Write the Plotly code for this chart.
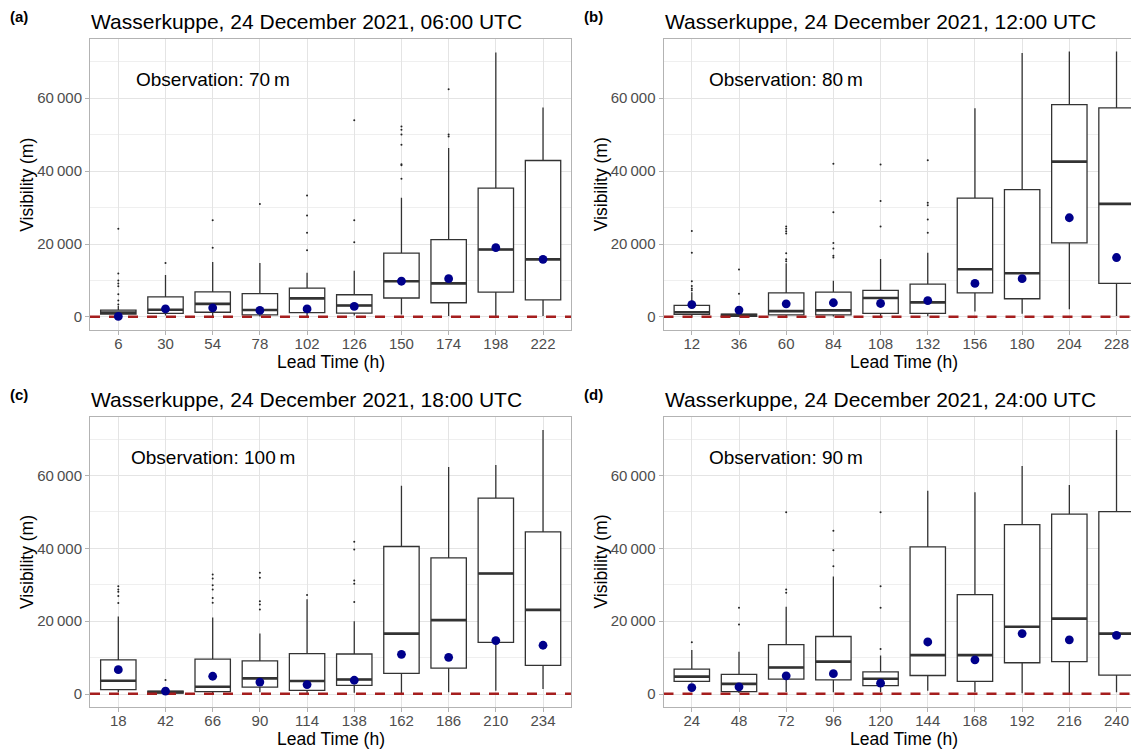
import plotly.graph_objects as go

# ---------------- data ----------------
titles = ["Wasserkuppe, 24 December 2021, 06:00 UTC",
          "Wasserkuppe, 24 December 2021, 12:00 UTC",
          "Wasserkuppe, 24 December 2021, 18:00 UTC",
          "Wasserkuppe, 24 December 2021, 24:00 UTC"]
panel_tags = ["(a)", "(b)", "(c)", "(d)"]
observations = [70, 80, 100, 90]

lead_a = [6, 30, 54, 78, 102, 126, 150, 174, 198, 222]
q1_a = [780, 1000, 1300, 600, 1200, 1050, 5200, 3900, 6800, 4700]
med_a = [1200, 2000, 3600, 1900, 5100, 3150, 9800, 9200, 18500, 15800]
q3_a = [1870, 5500, 6900, 6400, 7900, 6100, 17500, 21200, 35300, 42900]
lo_a = [100, 400, 100, 100, 200, 400, 700, 300, 0, 300]
hi_a = [3000, 11500, 15100, 14800, 12100, 12700, 32700, 46300, 72500, 57400]
mean_a = [150, 2200, 2500, 1800, 2200, 2900, 9800, 10500, 19000, 15800]
out_a = [[24200, 11900, 10000, 9200, 8400, 6200, 4500, 3400], [14800], [19000, 26500],
         [31000], [18300, 23100, 27800, 33300], [20500, 26500, 53900],
         [37900, 41600, 41900, 47200, 50000, 51300, 52200], [49500, 50000, 62400], [], []]

lead_b = [12, 36, 60, 84, 108, 132, 156, 180, 204, 228]
q1_b = [700, 200, 600, 600, 1000, 1000, 6600, 5000, 20300, 9200]
med_b = [1300, 500, 1600, 1800, 5200, 4000, 13100, 12000, 42600, 31000]
q3_b = [3200, 800, 6600, 6800, 7300, 9000, 32600, 34900, 58200, 57300]
lo_b = [100, 100, 100, 100, 200, 200, 1500, 900, 2100, 300]
hi_b = [6800, 1500, 14700, 9900, 15900, 17600, 57200, 72400, 72800, 72800]
mean_b = [3400, 1900, 3600, 3900, 3700, 4500, 9200, 10500, 27200, 16300]
out_b = [[7300, 7800, 8500, 9800, 17600, 23600], [6400, 13000],
         [15300, 15800, 17500, 22900, 23500, 24200, 24800],
         [16300, 16800, 18800, 20300, 28700, 42000], [24800, 31800, 41800],
         [23100, 26700, 30600, 31300, 43000], [], [], [], []]

lead_c = [18, 42, 66, 90, 114, 138, 162, 186, 210, 234]
q1_c = [1200, 300, 700, 1900, 1000, 2400, 5700, 7100, 14200, 7900]
med_c = [3650, 550, 2000, 4300, 3600, 4000, 16600, 20300, 33100, 23100]
q3_c = [9400, 800, 9600, 9100, 11100, 11000, 40500, 37400, 53800, 44500]
lo_c = [500, 100, 300, 500, 300, 400, 300, 500, 900, 1400]
hi_c = [21300, 1300, 21000, 16600, 26000, 20000, 57200, 62300, 62900, 72500]
mean_c = [6700, 800, 4900, 3300, 2600, 3800, 10900, 10100, 14700, 13400]
out_c = [[25000, 26900, 28100, 28700, 29600], [3900],
         [25100, 26400, 28700, 29900, 31700, 32800],
         [23200, 24600, 25500, 31900, 33300], [27200],
         [25300, 30300, 31200, 39700, 41800], [], [], [], []]

lead_d = [24, 48, 72, 96, 120, 144, 168, 192, 216, 240]
q1_d = [3500, 650, 4100, 3900, 2300, 5100, 3500, 8600, 8900, 5200]
med_d = [4800, 2800, 7300, 8900, 4200, 10700, 10700, 18500, 20700, 16600]
q3_d = [6850, 5400, 13600, 15800, 6100, 40400, 27300, 46500, 49400, 50100]
lo_d = [3200, 300, 550, 500, 500, 900, 500, 200, 200, 500]
hi_d = [12100, 11600, 24000, 32300, 10600, 55800, 55400, 62600, 57400, 72500]
mean_d = [1800, 2000, 5000, 5600, 3000, 14300, 9400, 16600, 14900, 16100]
out_d = [[14200], [19100, 23700], [27800, 28700, 49900], [35100, 39500, 44800],
         [12400, 23700, 29600, 49900], [], [], [], [], []]

y_tickvals = [0, 20000, 40000, 60000]
y_ticktext = ["0", "20\u2009000", "40\u2009000", "60\u2009000"]
y_minor = [10000, 30000, 50000, 70000]

panels = [
    (lead_a, q1_a, med_a, q3_a, lo_a, hi_a, mean_a, out_a),
    (lead_b, q1_b, med_b, q3_b, lo_b, hi_b, mean_b, out_b),
    (lead_c, q1_c, med_c, q3_c, lo_c, hi_c, mean_c, out_c),
    (lead_d, q1_d, med_d, q3_d, lo_d, hi_d, mean_d, out_d),
]

# ---------------- layout geometry ----------------
WIN_W, WIN_H = 1139, 750
OFF = 8  # default page body margin
W, H = WIN_W - OFF, WIN_H - OFF
FONT = "Liberation Sans, Arial, Helvetica, sans-serif"
BOXW = 0.75
YR = [-3625, 76125]
# pixel boxes in window coordinates: (left, right, top, bottom)
boxes_px = [(90, 571.3, 39.3, 330.2), (663.5, 1139, 39.3, 330.2),
            (90, 571.3, 416.7, 707.3), (663.5, 1139, 416.7, 707.3)]
px_per_cat = 47.19


def px_x(p):
    return (p - OFF) / W


def px_y(p):
    return 1 - (p - OFF) / H


fig = go.Figure()
layout = dict(width=W, height=H, margin=dict(l=0, r=0, t=0, b=0),
              paper_bgcolor="white", plot_bgcolor="white", showlegend=False,
              boxmode="overlay", font=dict(family=FONT, color="black"))
annotations = []

for k, (lead, q1, med, q3, lo, hi, mean, outs) in enumerate(panels):
    xa = "x" if k == 0 else f"x{k+1}"
    ya = "y" if k == 0 else f"y{k+1}"
    idx = list(range(len(lead)))
    left, right, top, bottom = boxes_px[k]
    xr = [-0.6, -0.6 + (right - left) / px_per_cat]

    fig.add_trace(go.Box(x=idx, q1=q1, median=med, q3=q3, lowerfence=lo, upperfence=hi,
                         width=BOXW, fillcolor="white", whiskerwidth=0, boxpoints=False,
                         line=dict(color="#333333", width=1.3), xaxis=xa, yaxis=ya,
                         hoverinfo="skip"))
    # thicker median segments
    mx, my = [], []
    for i, m in zip(idx, med):
        mx += [i - BOXW / 2, i + BOXW / 2, None]
        my += [m, m, None]
    fig.add_trace(go.Scatter(x=mx, y=my, mode="lines", line=dict(color="#333333", width=2.6),
                             xaxis=xa, yaxis=ya, hoverinfo="skip"))
    # outliers
    ox, oy = [], []
    for i, vals in zip(idx, outs):
        ox += [i] * len(vals)
        oy += vals
    fig.add_trace(go.Scatter(x=ox, y=oy, mode="markers",
                             marker=dict(color="#222222", size=2),
                             xaxis=xa, yaxis=ya, hoverinfo="skip"))
    # observation line
    fig.add_trace(go.Scatter(x=[-0.6, len(lead) - 0.4], y=[observations[k]] * 2, mode="lines",
                             line=dict(color="#A51E1E", width=2.6, dash="10px,9px"),
                             xaxis=xa, yaxis=ya, hoverinfo="skip"))
    # means
    fig.add_trace(go.Scatter(x=idx, y=mean, mode="markers",
                             marker=dict(color="#00008B", size=8.8),
                             xaxis=xa, yaxis=ya, hoverinfo="skip"))

    dom_x = [px_x(left), min(1.0, px_x(right))]
    dom_y = [px_y(bottom), px_y(top)]
    axcommon = dict(showline=True, linecolor="#B3B3B3", linewidth=1, mirror=True,
                    ticks="outside", ticklen=4, tickcolor="#B3B3B3", tickwidth=1,
                    tickfont=dict(family=FONT, size=15, color="#4D4D4D"),
                    showgrid=True, gridcolor="#E4E4E4", gridwidth=1, zeroline=False)
    layout["xaxis" if k == 0 else f"xaxis{k+1}"] = dict(
        axcommon, domain=dom_x, range=xr, tickmode="array", tickvals=idx,
        ticktext=[str(v) for v in lead], anchor=ya, ticklabelstandoff=-4)
    layout["yaxis" if k == 0 else f"yaxis{k+1}"] = dict(
        axcommon, domain=dom_y, range=YR, tickmode="array", tickvals=y_tickvals,
        ticktext=y_ticktext, anchor=xa,
        minor=dict(tickmode="array", tickvals=y_minor, showgrid=True,
                   gridcolor="#EFEFEF", gridwidth=1, ticks=""))

    cx = left + (571.3 - 90) / 2
    # title
    annotations.append(dict(text=titles[k], xref="paper", yref="paper",
                            x=px_x(left - 1), y=px_y(top - 17.6), xanchor="left", yanchor="middle",
                            showarrow=False, font=dict(family=FONT, size=21, color="black")))
    # panel tag
    tag_x = 8 if k in (0, 2) else 582
    annotations.append(dict(text="<b>" + panel_tags[k] + "</b>", xref="paper", yref="paper",
                            x=px_x(tag_x), y=px_y(top - 22.6), xanchor="left",
                            yanchor="middle", showarrow=False,
                            font=dict(family=FONT, size=15, color="black")))
    # x axis title
    annotations.append(dict(text="Lead Time (h)", xref="paper", yref="paper",
                            x=px_x(cx), y=px_y(bottom + 31.5), xanchor="center",
                            yanchor="middle", showarrow=False,
                            font=dict(family=FONT, size=17.5, color="black")))
    # y axis title
    annotations.append(dict(text="Visibility (m)", xref="paper", yref="paper",
                            x=px_x(left - 63), y=px_y((top + bottom) / 2), xanchor="center",
                            yanchor="middle", textangle=-90, showarrow=False,
                            font=dict(family=FONT, size=17.5, color="black")))
    # observation label
    annotations.append(dict(text=f"Observation: {observations[k]}\u2009m", xref=xa, yref=ya,
                            x=2, y=65000, xanchor="center", yanchor="middle", showarrow=False,
                            font=dict(family=FONT, size=19, color="black")))

layout["annotations"] = annotations
fig.update_layout(**layout)
fig.write_html("out.html")
